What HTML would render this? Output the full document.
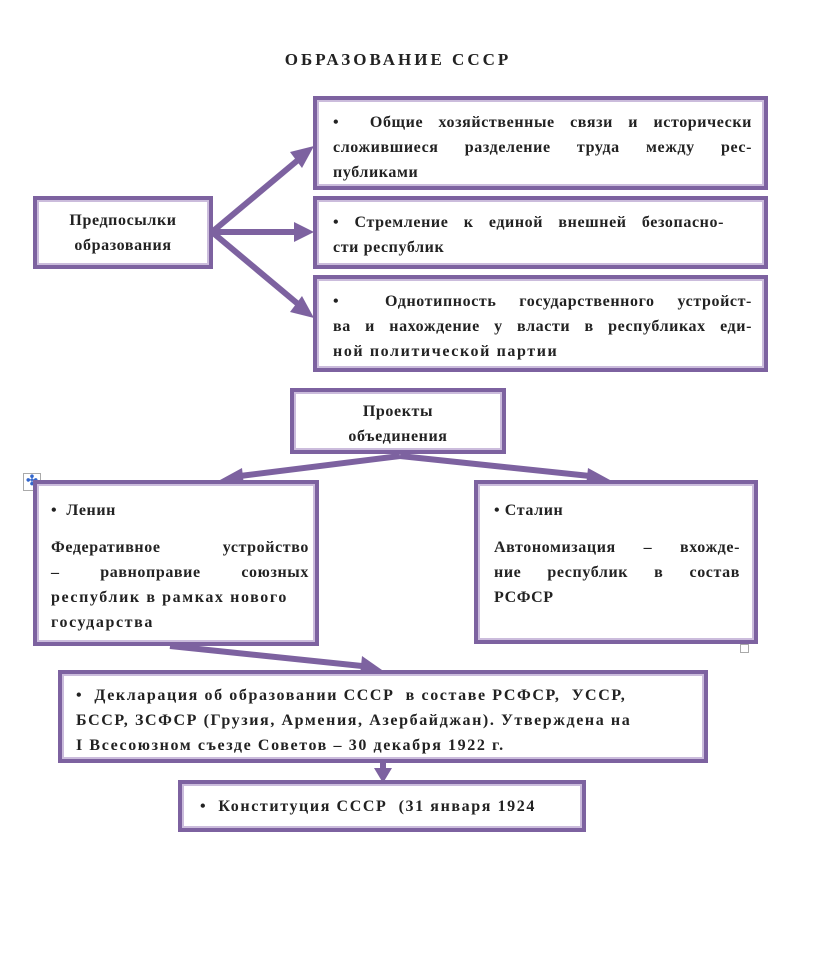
<!DOCTYPE html>
<html><head><meta charset="utf-8">
<style>
body{margin:0;width:816px;height:957px;background:#fff;position:relative;overflow:hidden;font-family:"Liberation Serif",serif;font-weight:bold;color:#222;}
.b{position:absolute;box-sizing:border-box;border:4px solid #7d62a0;box-shadow:inset 0 0 0 2px #cbbcdc;background:#fff;font-size:16px;line-height:25px;letter-spacing:0.6px;white-space:nowrap;}
.l{display:block;text-align:justify;text-align-last:justify;}
.w{letter-spacing:1.6px;}
.c{text-align:center;}
.t{position:absolute;left:0;width:796px;text-align:center;top:50px;font-size:17px;letter-spacing:3px;}
svg{position:absolute;left:0;top:0;}
</style></head><body>
<div class="t">ОБРАЗОВАНИЕ СССР</div>
<svg width="816" height="957">
<g stroke="#7d62a0" stroke-width="6" fill="#7d62a0">
<line x1="212" y1="232" x2="298" y2="160"/>
<polygon points="314,146 290,152 302,168" stroke="none"/>
<line x1="212" y1="232" x2="296" y2="232"/>
<polygon points="314,232 294,222 294,242" stroke="none"/>
<line x1="212" y1="232" x2="298" y2="304"/>
<polygon points="314,318 302,296 290,312" stroke="none"/>
<line x1="400" y1="456" x2="240" y2="476"/>
<polygon points="220,480 242,468 244,486" stroke="none"/>
<line x1="400" y1="456" x2="590" y2="476"/>
<polygon points="610,480 588,468 586,486" stroke="none"/>
<line x1="170" y1="646" x2="362" y2="666"/>
<polygon points="382,670 362,656 360,676" stroke="none"/>
<line x1="383" y1="762" x2="383" y2="772"/>
<polygon points="383,783 374,768 392,768" stroke="none"/>
</g>
</svg>
<div class="b c" style="left:33px;top:196px;width:180px;height:73px;padding-top:8px;">Предпосылки<br>образования</div>
<div class="b" style="left:313px;top:96px;width:455px;height:94px;padding:10px 12px 0 16px;"><span class="l">•&nbsp; Общие хозяйственные связи и исторически</span><span class="l">сложившиеся разделение труда между рес-</span>публиками</div>
<div class="b" style="left:313px;top:196px;width:455px;height:73px;padding:10px 12px 0 16px;"><span class="l" style="margin-right:28px">• Стремление к единой внешней безопасно-</span>сти республик</div>
<div class="b" style="left:313px;top:275px;width:455px;height:97px;padding:10px 12px 0 16px;"><span class="l">•&nbsp; Однотипность государственного устройст-</span><span class="l">ва и нахождение у власти в республиках еди-</span><span class="w">ной политической партии</span></div>
<div class="b c" style="left:290px;top:388px;width:216px;height:66px;padding-top:7px;">Проекты<br>объединения</div>
<div style="position:absolute;left:23px;top:473px;width:16px;height:16px;border:1px solid #aaa;background:#fff;color:#36c;font-size:14px;line-height:16px;text-align:center;">✣</div>
<div class="b" style="left:33px;top:480px;width:286px;height:166px;padding:14px 6px 0 14px;">•&nbsp; Ленин<div style="margin-top:12px"><span class="l">Федеративное устройство</span><span class="l">– равноправие союзных</span><span class="w">республик в рамках нового<br>государства</span></div></div>
<div class="b" style="left:474px;top:480px;width:284px;height:164px;padding:14px 14px 0 16px;">• Сталин<div style="margin-top:12px"><span class="l">Автономизация – вхожде-</span><span class="l">ние республик в состав</span>РСФСР</div></div>
<div style="position:absolute;left:740px;top:644px;width:7px;height:7px;border:1px solid #aaa;"></div>
<div class="b w" style="left:58px;top:670px;width:650px;height:93px;padding:9px 12px 0 14px;">•&nbsp; Декларация об образовании СССР&nbsp; в составе РСФСР,&nbsp; УССР,<br>БССР, ЗСФСР (Грузия, Армения, Азербайджан). Утверждена на<br>I Всесоюзном съезде Советов – 30 декабря 1922 г.</div>
<div class="b w" style="left:178px;top:780px;width:408px;height:52px;padding:10px 12px 0 18px;">•&nbsp; Конституция СССР&nbsp; (31 января 1924</div>
</body></html>
